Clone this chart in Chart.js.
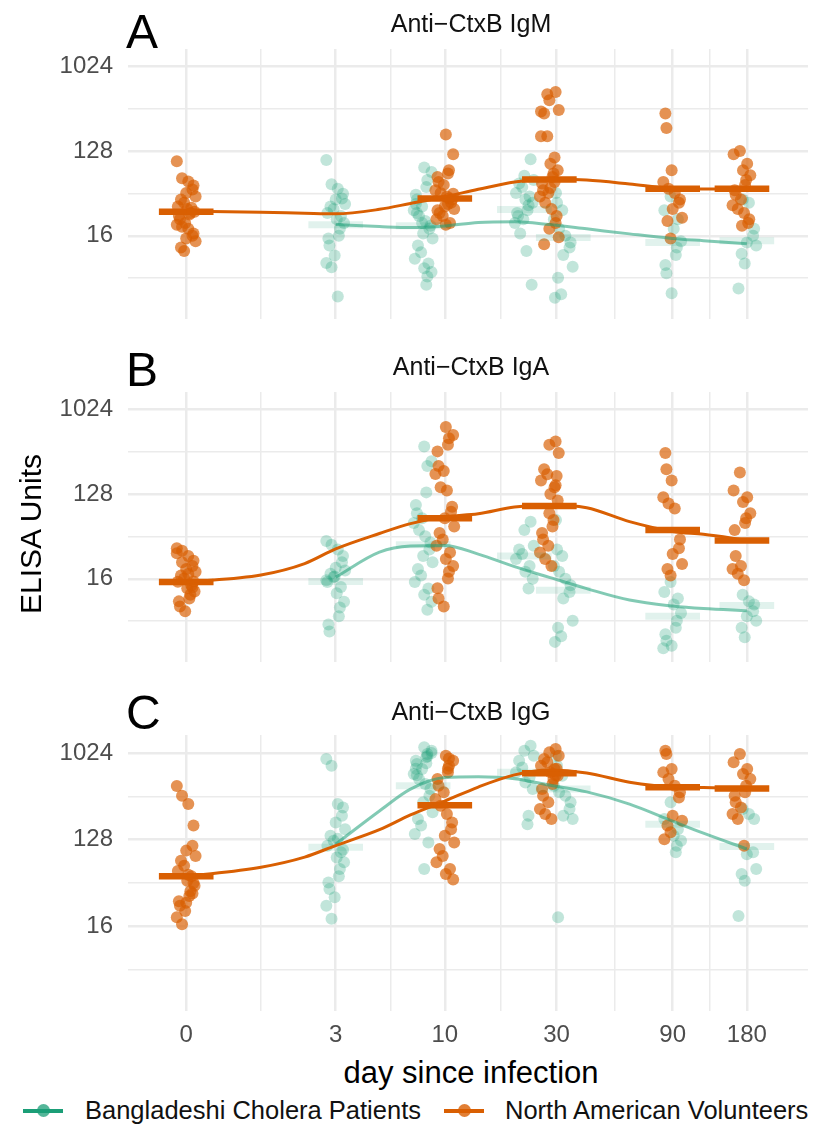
<!DOCTYPE html>
<html>
<head>
<meta charset="utf-8">
<script src="https://cdn.jsdelivr.net/npm/chart.js@4.4.1/dist/chart.umd.min.js"></script>
<style>
html,body{margin:0;padding:0;background:#fff;}
#fig{position:relative;width:814px;height:1124px;overflow:hidden;font-family:"Liberation Sans",Arial,Helvetica,sans-serif;}
#fig canvas{position:absolute;left:0;}
.t{position:absolute;white-space:nowrap;line-height:1;}
</style>
</head>
<body>
<div id="fig">
  <canvas id="cA" width="814" height="325" style="top:0px"></canvas>
  <canvas id="cB" width="814" height="325" style="top:343px"></canvas>
  <canvas id="cC" width="814" height="365" style="top:686px"></canvas>

  <div class="t" style="left:126px;top:7.7px;font-size:48px;color:#000">A</div>
  <div class="t" style="left:126px;top:346px;font-size:48px;color:#000">B</div>
  <div class="t" style="left:126px;top:689px;font-size:48px;color:#000">C</div>

  <div class="t" style="left:128px;width:686px;text-align:center;top:10.5px;font-size:25px;color:#111">Anti−CtxB IgM</div>
  <div class="t" style="left:128px;width:686px;text-align:center;top:353.8px;font-size:25px;color:#111">Anti−CtxB IgA</div>
  <div class="t" style="left:128px;width:686px;text-align:center;top:698.8px;font-size:25px;color:#111">Anti−CtxB IgG</div>

  <div class="t" style="left:128px;width:686px;text-align:center;top:1056.8px;font-size:31px;color:#000">day since infection</div>
  <div class="t" style="left:-119px;top:519px;width:300px;height:30px;text-align:center;font-size:30px;color:#000;transform:rotate(-90deg);transform-origin:150px 15px">ELISA Units</div>

  <div style="position:absolute;left:23px;top:1108.7px;width:40px;height:4px;background:#1B9E77"></div>
  <div style="position:absolute;left:36.5px;top:1104.2px;width:13px;height:13px;border-radius:50%;background:rgba(27,158,119,0.75)"></div>
  <div class="t" style="left:85px;top:1097.7px;font-size:25.5px;color:#111">Bangladeshi Cholera Patients</div>

  <div style="position:absolute;left:444px;top:1108.7px;width:40px;height:4px;background:#D95F02"></div>
  <div style="position:absolute;left:457.5px;top:1104.2px;width:13px;height:13px;border-radius:50%;background:rgba(217,95,2,0.8)"></div>
  <div class="t" style="left:505px;top:1097.7px;font-size:25.5px;color:#111">North American Volunteers</div>
</div>

<script>
// ---------------- data (ELISA units) ----------------
const X_TICK_DAYS = [0, 3, 10, 30, 90, 180];
const Y_TICK_VALUES = [16, 128, 1024];

// sampling days of each cohort's groups
const VOL_DAYS = [0, 10, 28, 90, 172];
const PAT_DAYS = [3, 8, 22, 32, 90, 180];

// days at which the smoothed curves were read
const VOL_SMOOTH_DAYS = [0, 1, 2, 3, 5, 7, 10, 14, 20, 28, 40, 60, 90, 120, 180];
const PAT_SMOOTH_DAYS = [3, 5, 7, 10, 14, 20, 28, 40, 60, 90, 120, 180];

// ---- Panel A: Anti-CtxB IgM ----
const igmVolunteers = [
  [100, 66, 61, 55, 50, 46, 42, 39, 36, 33, 32, 31, 29, 28, 27, 26, 24, 22, 21, 20, 19, 17, 16, 15, 14, 12, 11],
  [193, 119, 80, 74, 68, 60, 56, 49, 46, 42, 39, 36, 33, 31, 28, 26, 24, 22, 21, 45, 40, 35, 30],
  [549, 449, 353, 324, 185, 185, 110, 94, 80, 74, 68, 58, 49, 46, 42, 36, 31, 26, 22, 19, 15.5, 13, 520, 340, 60, 52],
  [324, 226, 80, 60, 51, 46, 39, 36, 31, 25, 23, 15],
  [129, 119, 94, 80, 71, 63, 56, 49, 44, 39, 34, 31, 28, 24, 22, 20.5]
];
const igmPatients = [
  [103, 57, 51, 45, 40, 39, 35, 33, 31, 28, 26, 24, 22, 19, 16, 15, 12.6, 9.9, 8.2, 7.4, 3.6],
  [86, 77, 63, 53, 44, 39, 33, 30, 26, 23, 20.5, 19, 17, 15, 12.6, 10.7, 9.1, 8.1, 7.2, 6.6, 5.9, 4.8, 35, 28, 22],
  [105, 70, 63, 58, 53, 46, 42, 39, 36, 34, 30, 28, 26, 24, 22, 17, 11, 4.8],
  [46, 36, 30, 24, 19, 16, 13.6, 12, 10, 7.5, 5.7, 3.8, 3.5],
  [42, 30, 24, 19, 14, 12, 10, 7.8, 6.4, 3.9],
  [39, 36, 19, 16, 13.6, 12.6, 10.3, 8.1, 4.4]
];
const igmVolMedians = [29, 40, 64, 51, 51];
const igmPatMedians = [21, 20.5, 30.5, 15.4, 13.6, 14.2];
const igmVolSmooth = [29.2, 28.6, 27.9, 27.5, 30.7, 35.5, 41.9, 50.2, 60.1, 64.9, 63.1, 57.3, 51.3, 50.6, 50.6];
const igmPatSmooth = [21.1, 20.1, 19.6, 20.4, 22.2, 22.6, 21.1, 19.0, 16.8, 15.0, 14.2, 13.2];

// ---- Panel B: Anti-CtxB IgA ----
const igaVolunteers = [
  [34, 32, 28, 25, 22, 20.4, 19, 17.4, 16.1, 14.9, 13.7, 12.7, 11.7, 10.8, 9.9, 9.2, 8.1, 7.2, 30, 24, 18, 15, 13],
  [670, 549, 506, 431, 367, 256, 227, 210, 152, 140, 94, 83, 71, 58, 49.5, 42, 36, 30.5, 26, 22, 19, 16.1, 12.7, 9.9, 8.1],
  [468, 431, 352, 236, 209, 179, 152, 129, 110, 68, 58, 49.5, 42, 36, 30.5, 26, 22, 200, 160, 80],
  [352, 236, 179, 119, 102, 90, 42, 34, 29.5, 23, 20.4, 17.4],
  [218, 140, 119, 106, 80, 71, 63, 53, 28, 22, 20.4, 18.1, 15.5]
];
const igaPatients = [
  [40.5, 37, 33, 28, 24, 21, 19.7, 18.1, 16.7, 14.8, 13.1, 11.2, 9.1, 7.9, 6.4, 5.2, 4.4, 17, 15.5],
  [413, 288, 256, 134, 98, 80, 71, 63, 53, 45.5, 39, 33, 28, 24, 20.4, 17.4, 14.8, 12.6, 10.8, 9.1, 7.5],
  [65, 53, 36, 33, 29.5, 26, 22, 19, 16, 12.6],
  [68, 33, 28, 22, 19, 16, 13.7, 11.6, 9.9, 5.7, 4.8, 3.9, 3.4],
  [14.8, 11.6, 9.9, 8.5, 6.9, 5.7, 4.8, 4.1, 3.5, 3.1, 2.9],
  [10.8, 9.2, 8.5, 7.2, 6.4, 5.7, 4.8, 3.8]
];
const igaVolMedians = [14.8, 71, 96, 53, 41];
const igaPatMedians = [15, 37, 28, 12.1, 6.4, 8.3];
const igaVolSmooth = [14.8, 17.6, 23.3, 33.4, 48.8, 62.2, 73.5, 79.3, 93.7, 98.4, 91.8, 65.3, 51.3, 47.8, 41.4];
const igaPatSmooth = [16.7, 30.9, 35.8, 36.3, 29.4, 21.6, 16.6, 12.6, 9.5, 8.2, 7.7, 7.3];

// ---- Panel C: Anti-CtxB IgG ----
const iggVolunteers = [
  [464, 367, 300, 179, 110, 98, 86, 77, 68, 60, 53, 47.5, 42, 37, 33, 29, 26, 23, 19.7, 16.7, 55, 45, 35, 28],
  [960, 850, 755, 643, 548, 466, 398, 338, 288, 236, 193, 164, 140, 119, 102, 86, 74, 63, 56, 49, 900, 700],
  [1128, 1040, 960, 886, 820, 755, 697, 643, 593, 548, 485, 430, 367, 313, 266, 236, 210, 700, 600],
  [1082, 1000, 697, 643, 548, 466, 398, 352, 226, 201, 179, 152, 129],
  [1000, 820, 697, 618, 548, 466, 398, 367, 313, 277, 236, 210, 110]
];
const iggPatients = [
  [886, 755, 300, 277, 226, 193, 164, 140, 124, 110, 94, 83, 74, 63, 53, 45.6, 39, 32, 26, 19, 130, 100],
  [1176, 1082, 1000, 923, 850, 786, 697, 618, 548, 485, 430, 367, 313, 246, 210, 179, 146, 119, 63, 1024, 950, 800, 700, 600],
  [1220, 1082, 960, 850, 724, 643, 571, 505, 430, 226, 185],
  [960, 755, 593, 466, 398, 367, 313, 266, 226, 210, 19.7],
  [313, 210, 164, 140, 124, 110, 94],
  [266, 236, 210, 94, 90, 63, 56, 47.5, 20.4]
];
const iggVolMedians = [53, 292, 630, 449, 437];
const iggPatMedians = [106, 465, 643, 430, 185, 108];
const iggVolSmooth = [52.7, 65.8, 83.9, 110.6, 162, 231, 322, 452, 605, 680, 635, 508, 452, 446, 437];
const iggPatSmooth = [114.5, 254, 430, 568, 580, 553, 474, 402, 300, 199, 149, 102];

// ---------------- styling / drawing ----------------
const GREEN = '#1B9E77', ORANGE = '#D95F02';
const FONT = '"Liberation Sans", Arial, Helvetica, sans-serif';
const tx = d => Math.log10(d + 1);   // log(day + 1) axis
const ty = v => Math.log2(v);        // log2 ELISA axis
const X_MIN = -0.2344, X_MAX = 2.504;
const Y_MIN = 1.052, Y_MAX = 10.625;
const BAR_HALF = 0.11;               // half width of median bars (axis units)
const JIT_W = 0.042;                 // jitter half width (axis units)
const JITTER = [-0.9, 0.4, -0.2, 0.7, -0.6, 0.1, 0.9, -0.4, 0.3, -0.8, 0.6, -0.1, 0.8, -0.5, 0.2, -0.7, 0.5, 0.0];

function pointData(days, groups) {
  const out = [];
  groups.forEach((vals, g) => vals.forEach((v, i) => {
    out.push({ x: tx(days[g]) + JITTER[(i * 7 + g * 5) % JITTER.length] * JIT_W, y: ty(v) });
  }));
  return out;
}
function barData(days, meds) {
  const out = [];
  days.forEach((d, i) => {
    const c = tx(d), y = ty(meds[i]);
    out.push({ x: c - BAR_HALF, y: y }, { x: c + BAR_HALF, y: y }, { x: c + BAR_HALF, y: null });
  });
  return out;
}
function lineData(days, vals) {
  return days.map((d, i) => ({ x: tx(d), y: ty(vals[i]) }));
}

// tick sets: majors with midpoints as minor grid lines
const xMajor = X_TICK_DAYS.map(tx);
const xTicks = [];
xMajor.forEach((m, i) => {
  if (i > 0) xTicks.push({ value: (xMajor[i - 1] + m) / 2, major: false, lab: '' });
  xTicks.push({ value: m, major: true, lab: String(X_TICK_DAYS[i]) });
});
const yMajor = Y_TICK_VALUES.map(ty);
const yStep = yMajor[1] - yMajor[0];
const yTicks = [];
yMajor.forEach((m, i) => {
  yTicks.push({ value: m - yStep / 2, major: false, lab: '' });
  yTicks.push({ value: m, major: true, lab: String(Y_TICK_VALUES[i]) });
});

function makePanel(id, vol, pat, volMed, patMed, volSm, patSm, showX) {
  const gridW = ctx => (ctx.tick && ctx.tick.major) ? 2.5 : 1.5;
  new Chart(document.getElementById(id), {
    type: 'scatter',
    data: {
      datasets: [
        { data: lineData(VOL_SMOOTH_DAYS, volSm), showLine: true, borderColor: ORANGE, borderWidth: 3,
          pointRadius: 0, cubicInterpolationMode: 'monotone', order: 0 },
        { data: lineData(PAT_SMOOTH_DAYS, patSm), showLine: true, borderColor: 'rgba(27,158,119,0.55)', borderWidth: 3,
          pointRadius: 0, cubicInterpolationMode: 'monotone', order: 1 },
        { data: barData(VOL_DAYS, volMed), showLine: true, borderColor: ORANGE, borderWidth: 6.5,
          borderCapStyle: 'butt', pointRadius: 0, tension: 0, spanGaps: false, order: 2 },
        { data: barData(PAT_DAYS, patMed), showLine: true, borderColor: 'rgba(27,158,119,0.13)', borderWidth: 7,
          borderCapStyle: 'butt', pointRadius: 0, tension: 0, spanGaps: false, order: 3 },
        { data: pointData(VOL_DAYS, vol), pointRadius: 6, pointHoverRadius: 6, pointBorderWidth: 0,
          pointBackgroundColor: 'rgba(217,95,2,0.68)', order: 4 },
        { data: pointData(PAT_DAYS, pat), pointRadius: 6, pointHoverRadius: 6, pointBorderWidth: 0,
          pointBackgroundColor: 'rgba(27,158,119,0.27)', order: 5 }
      ]
    },
    options: {
      responsive: false, animation: false, devicePixelRatio: 1,
      layout: { padding: { top: 49, left: 0, right: 0, bottom: 0 } },
      plugins: { legend: { display: false }, tooltip: { enabled: false }, title: { display: false } },
      scales: {
        x: {
          type: 'linear', min: X_MIN, max: X_MAX,
          afterBuildTicks: s => { s.ticks = xTicks.map(t => Object.assign({}, t)); },
          afterFit: s => { s.height = showX ? 40 : 0; s.paddingLeft = 0; s.paddingRight = 0; },
          grid: { color: '#EBEBEB', lineWidth: gridW, drawTicks: false },
          border: { display: false },
          ticks: {
            display: showX, autoSkip: false, maxRotation: 0, padding: 10, color: '#4D4D4D',
            font: { family: FONT, size: 24 },
            callback: (v, i, ticks) => ticks[i].lab
          }
        },
        y: {
          type: 'linear', min: Y_MIN, max: Y_MAX,
          afterBuildTicks: s => { s.ticks = yTicks.map(t => Object.assign({}, t)); },
          afterFit: s => { s.width = 128; s.paddingTop = 0; s.paddingBottom = 0; },
          grid: { color: '#EBEBEB', lineWidth: gridW, drawTicks: false },
          border: { display: false },
          ticks: {
            autoSkip: false, padding: 15, color: '#4D4D4D',
            font: { family: FONT, size: 24 },
            callback: (v, i, ticks) => ticks[i].lab
          }
        }
      }
    }
  });
}

makePanel('cA', igmVolunteers, igmPatients, igmVolMedians, igmPatMedians, igmVolSmooth, igmPatSmooth, false);
makePanel('cB', igaVolunteers, igaPatients, igaVolMedians, igaPatMedians, igaVolSmooth, igaPatSmooth, false);
makePanel('cC', iggVolunteers, iggPatients, iggVolMedians, iggPatMedians, iggVolSmooth, iggPatSmooth, true);
</script>
</body>
</html>
